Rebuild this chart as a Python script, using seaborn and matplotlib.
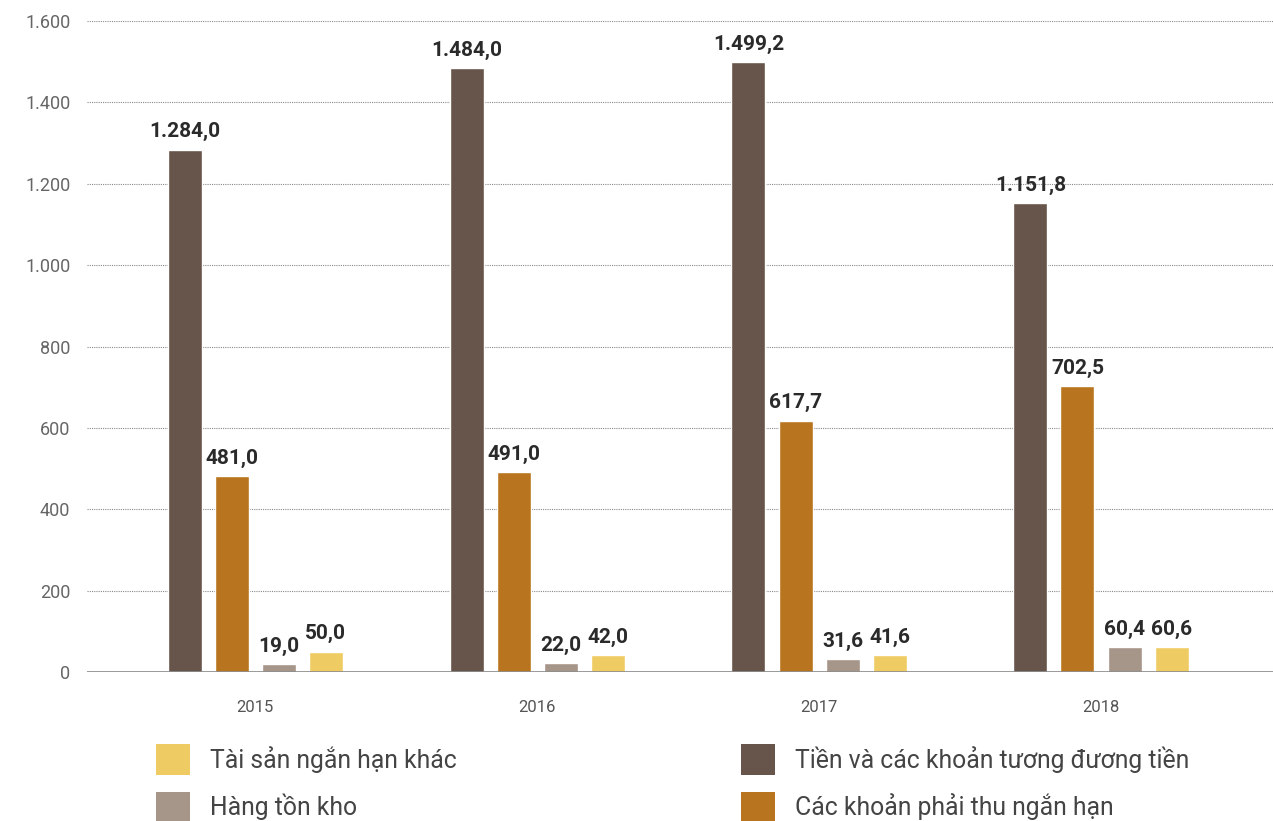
import matplotlib
matplotlib.use("Agg")
import matplotlib.pyplot as plt
from matplotlib.patches import Patch
import seaborn as sns
import pandas as pd

years = ["2015", "2016", "2017", "2018"]
series_names = [
    "Tiền và các khoản tương đương tiền",
    "Các khoản phải thu ngắn hạn",
    "Hàng tồn kho",
    "Tài sản ngắn hạn khác",
]
cash = [1284.0, 1484.0, 1499.2, 1151.8]
receivables = [481.0, 491.0, 617.7, 702.5]
inventory = [19.0, 22.0, 31.6, 60.4]
other_assets = [50.0, 42.0, 41.6, 60.6]
y_ticks = [0, 200, 400, 600, 800, 1000, 1200, 1400, 1600]

colors = ["#67544A", "#B9741F", "#A69589", "#EFCB63"]

rows = []
for name, vals in zip(series_names, [cash, receivables, inventory, other_assets]):
    for yr, v in zip(years, vals):
        rows.append({"Năm": yr, "Chỉ tiêu": name, "Giá trị": v})
df = pd.DataFrame(rows)

sns.set_theme(style="white")
plt.rcParams["font.family"] = ["Roboto", "DejaVu Sans"]


def vn_fmt(v, decimals=1):
    s = f"{v:,.{decimals}f}"
    return s.replace(",", "X").replace(".", ",").replace("X", ".")


fig = plt.figure(figsize=(12.73, 8.21), dpi=100)
ax = fig.add_axes([87 / 1273, 1 - 672 / 821, 1 - 87 / 1273, (672 - 21) / 821])

sns.barplot(
    data=df, x="Năm", y="Giá trị", hue="Chỉ tiêu",
    order=years, hue_order=series_names, palette=colors,
    width=0.667, gap=0.277, saturation=1, legend=False, ax=ax,
)

for cont in ax.containers:
    vals = [b.get_height() for b in cont]
    ax.bar_label(cont, labels=[vn_fmt(v) for v in vals], padding=6,
                 fontsize=15, fontweight="bold", color="#2a2a2a")

ax.set_ylim(0, 1600)
ax.set_xlim(-0.596, 3.61)
ax.set_yticks(y_ticks)
ax.set_yticklabels([vn_fmt(t, 0) for t in y_ticks])
ax.yaxis.grid(True, linestyle=(0, (1, 1)), color="#8a8a8a", linewidth=0.8)
ax.set_axisbelow(True)
ax.axhline(0, color="#8a8a8a", linewidth=1.2, zorder=3)
for s in ax.spines.values():
    s.set_visible(False)
ax.tick_params(axis="y", length=0, pad=12, labelsize=13, labelcolor="#666666")
ax.tick_params(axis="x", length=0, pad=20, labelsize=12, labelcolor="#555555")
ax.set_xlabel("")
ax.set_ylabel("")

legend_order = [3, 2, 0, 1]
handles = [Patch(facecolor=colors[i], edgecolor="none") for i in legend_order]
labels = [series_names[i] for i in legend_order]
fig.legend(
    handles, labels, ncol=2, loc="upper left",
    bbox_to_anchor=(134 / 1273, 1 - 722 / 821), bbox_transform=fig.transFigure,
    frameon=False, fontsize=17.8, handlelength=1.38, handleheight=1.53,
    handletextpad=0.8, columnspacing=11.5, labelspacing=0.68, labelcolor="#444444",
)

fig.savefig("out.png", dpi=100)
